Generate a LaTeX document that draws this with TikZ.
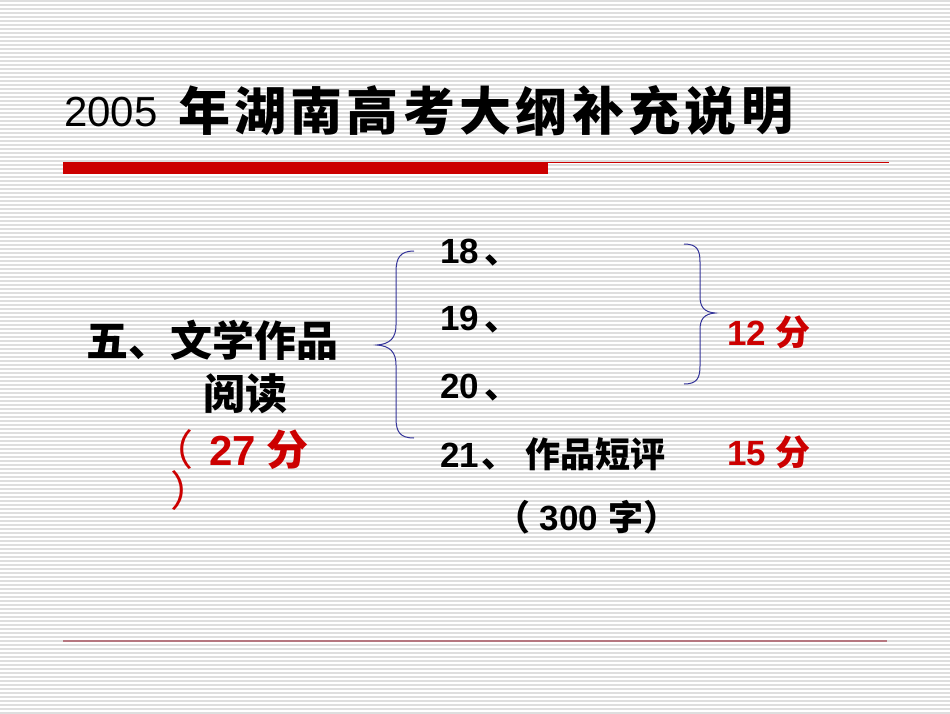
\documentclass[tikz,border=0pt]{standalone}
\usepackage{fontspec}
\setmainfont{Liberation Sans}
\newfontfamily\cjkfont{Noto Sans CJK SC}
\usetikzlibrary{positioning}
\definecolor{slidered}{HTML}{CC0000}
\definecolor{bracenavy}{HTML}{333399}
\definecolor{stripegray}{HTML}{DEDEDE}
\definecolor{rulemauve}{HTML}{B5767F}
\newcommand{\zh}[1]{{\cjkfont #1}}

\begin{document}
\begin{tikzpicture}[x=1pt,y=-1pt,
    titlechar/.style={inner sep=0pt,font=\cjkfont\bfseries\fontsize{52}{56}\selectfont},
    leftline/.style={anchor=base west,inner sep=0pt,font=\bfseries\fontsize{42}{46}\selectfont},
    itemline/.style={anchor=base west,inner sep=0pt,font=\bfseries\fontsize{35}{40}\selectfont},
    scoreline/.style={itemline,text=slidered}]
    \useasboundingbox (0,0) rectangle (950,713);
    % striped background
    \foreach \y in {1,5,...,713} {
      \draw[stripegray,line width=1.5pt] (0,\y) -- (950,\y);
    }
    % title
    \node[anchor=base west,inner sep=0pt,font=\fontsize{42}{46}\selectfont] (year) at (64,126) {2005};
    \foreach \ch [count=\i from 0] in {年,湖,南,高,考,大,纲,补,充,说,明} {
      \node[titlechar] (t\i) at (204+56.3*\i,111) {\ch};
    }
    \fill[slidered] (63,162) rectangle (548,174);
    \draw[slidered,line width=1pt] (548,162.5) -- (889,162.5);
    \draw[rulemauve,line width=1.2pt] (63,641) -- (887,641);
    % left block
    \node[leftline] (sect) at (86,356) {\zh{五、文学作品}};
    \node[leftline] (read) at (203,409) {\zh{阅读}};
    \node[leftline,text=slidered] (total) at (151,465) {\zh{\mdseries（}\hspace{16pt}27\hspace{11pt}\zh{分}};
    \node[leftline,text=slidered] (close) at (170,506) {\zh{\mdseries）}};
    % braces
    \draw[bracenavy,line width=1pt] (414,251) .. controls (400,251) and (396,258) .. (396,272)
      -- (396,325) .. controls (396,338) and (390,344) .. (377,345)
      .. controls (390,346) and (396,352) .. (396,365)
      -- (396,418) .. controls (396,432) and (400,438) .. (414,438);
    \draw[bracenavy,line width=1pt] (684,244) .. controls (697,244) and (700,250) .. (700,262)
      -- (700,296) .. controls (700,307) and (704,312) .. (715,313)
      .. controls (704,314) and (700,319) .. (700,330)
      -- (700,366) .. controls (700,378) and (697,384) .. (684,384);
    % items
    \node[itemline] (q18) at (440,263) {18\hspace{5pt}\zh{、}};
    \node[itemline] (q19) at (440,330) {19\hspace{5pt}\zh{、}};
    \node[itemline] (q20) at (440,398) {20\hspace{5pt}\zh{、}};
    \node[itemline] (q21) at (440,467) {21\hspace{2pt}\zh{、} \zh{作品短评}};
    \node[itemline] (words) at (495,530) {\zh{（} 300 \zh{字）}};
    \node[scoreline] (s12) at (727,345) {12 \zh{分}};
    \node[scoreline] (s15) at (727,465) {15 \zh{分}};
  \end{tikzpicture}
\end{document}
